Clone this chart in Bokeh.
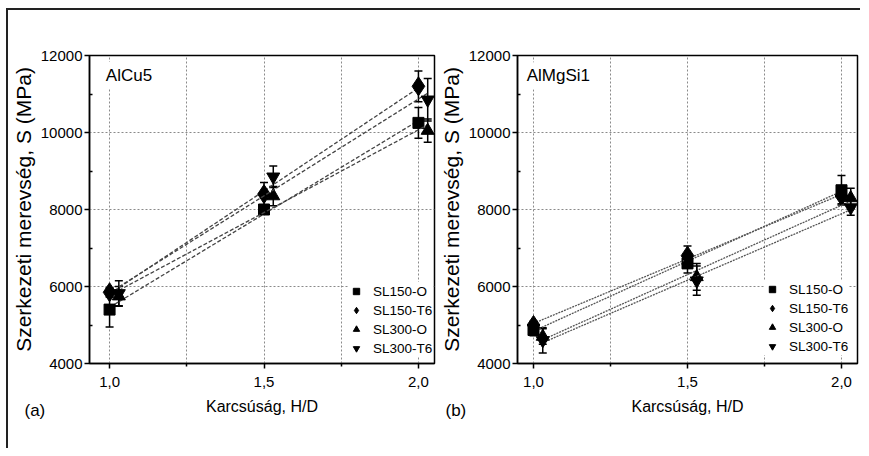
import numpy as np
from bokeh.plotting import figure
from bokeh.models import (ColumnDataSource, Whisker, Label, Legend, LegendItem,
                          FixedTicker, Range1d, TeeHead, Title)
from bokeh.layouts import row
from bokeh.embed import file_html
from bokeh.resources import INLINE

FONT = "'Liberation Sans', Arial, sans-serif"

# ---------------- data ----------------
series_names = ["SL150-O", "SL150-T6", "SL300-O", "SL300-T6"]
series_markers = ["square", "diamond", "triangle", "inverted_triangle"]
marker_sizes = [11, 19, 13, 13]

h_d_sl150 = [1.0, 1.5, 2.0]
h_d_sl300 = [1.03, 1.53, 2.03]

# (a) AlCu5
alcu5_sl150_o = [5400, 8000, 10250]
alcu5_sl150_o_err = [450, 80, 400]
alcu5_sl150_t6 = [5850, 8400, 11200]
alcu5_sl150_t6_err = [120, 300, 400]
alcu5_sl300_o = [5750, 8350, 10050]
alcu5_sl300_o_err = [250, 250, 300]
alcu5_sl300_t6 = [5820, 8850, 10850]
alcu5_sl300_t6_err = [330, 280, 550]

# (b) AlMgSi1
almgsi1_sl150_o = [4870, 6600, 8500]
almgsi1_sl150_o_err = [150, 250, 380]
almgsi1_sl150_t6 = [5000, 6800, 8350]
almgsi1_sl150_t6_err = [100, 250, 200]
almgsi1_sl300_o = [4700, 6250, 8300]
almgsi1_sl300_o_err = [200, 350, 250]
almgsi1_sl300_t6 = [4600, 6150, 8050]
almgsi1_sl300_t6_err = [330, 380, 200]

x_ticks = [1.0, 1.5, 2.0]
x_minor_ticks = [1.25, 1.75]
x_tick_labels = ["1,0", "1,5", "2,0"]
y_ticks = [4000, 6000, 8000, 10000, 12000]
y_minor_ticks = [5000, 7000, 9000, 11000]

x_label = "Karcsúság, H/D"
y_label = "Szerkezeti merevség, S (MPa)"


def make_panel(material, tag, values, errors, x_lo, x_hi, width, min_left,
               min_right, min_bottom, legend_loc, fit_dash, fit_color,
               mat_pos, tag_offset):
    p = figure(width=width, height=438, output_backend="svg", toolbar_location=None,
               x_range=Range1d(x_lo, x_hi), y_range=Range1d(4000, 12000),
               min_border_left=min_left, min_border_right=min_right,
               min_border_top=45, min_border_bottom=min_bottom)
    p.outline_line_color = "black"
    p.outline_line_width = 1.5
    p.outline_line_alpha = 1

    # grid
    p.xgrid.ticker = FixedTicker(ticks=x_ticks + x_minor_ticks)
    p.ygrid.ticker = FixedTicker(ticks=y_ticks)
    for g in (p.xgrid, p.ygrid):
        g.grid_line_color = "#8a8a8a"
        g.grid_line_dash = "2 2"
        g.grid_line_width = 1

    # axes
    p.xaxis.ticker = FixedTicker(ticks=x_ticks, minor_ticks=x_minor_ticks)
    p.xaxis.major_label_overrides = {t: l for t, l in zip(x_ticks, x_tick_labels)}
    p.yaxis.ticker = FixedTicker(ticks=y_ticks, minor_ticks=y_minor_ticks)
    for ax in (p.xaxis[0], p.yaxis[0]):
        ax.axis_line_width = 1.5
        ax.axis_line_color = "black"
        ax.major_tick_line_width = 1.5
        ax.minor_tick_line_width = 1.5
        ax.major_tick_out = 5
        ax.major_tick_in = 0
        ax.major_label_text_font = FONT
        ax.major_label_text_font_size = "15px"
        ax.major_label_text_color = "black"
        ax.axis_label_text_font = FONT
        ax.axis_label_text_font_style = "normal"
        ax.axis_label_text_color = "black"
    p.xaxis.minor_tick_out = 3
    p.xaxis.minor_tick_in = 0
    p.yaxis.minor_tick_in = 3
    p.yaxis.minor_tick_out = 0
    p.xaxis.major_label_standoff = 8
    p.yaxis.major_label_standoff = 2
    p.xaxis.axis_label = x_label
    p.xaxis.axis_label_text_font_size = "16px"
    p.xaxis.axis_label_standoff = 8
    p.yaxis.axis_label = y_label
    p.yaxis.axis_label_text_font_size = "21px"
    p.yaxis.axis_label_standoff = 3

    items = []
    for i, name in enumerate(series_names):
        xs = h_d_sl150 if i < 2 else h_d_sl300
        ys = values[i]
        es = errors[i]
        # linear fit line through each series
        k, b = np.polyfit(xs, ys, 1)
        fx = [xs[0], xs[-1]]
        p.line(fx, [k * fx[0] + b, k * fx[1] + b], line_dash=fit_dash,
               line_color=fit_color, line_width=1.3)
        src = ColumnDataSource(dict(x=xs, y=ys,
                                    lo=[y - e for y, e in zip(ys, es)],
                                    hi=[y + e for y, e in zip(ys, es)]))
        wh = Whisker(source=src, base="x", upper="hi", lower="lo",
                     line_color="black", line_width=1.5,
                     upper_head=TeeHead(size=8, line_width=1.5, line_color="black"),
                     lower_head=TeeHead(size=8, line_width=1.5, line_color="black"))
        p.add_layout(wh)
        r = p.scatter("x", "y", source=src, marker=series_markers[i],
                      size=marker_sizes[i], fill_color="black", line_color="black")
        items.append(LegendItem(label=name, renderers=[r]))

    legend = Legend(items=items, location=legend_loc)
    legend.border_line_color = None
    legend.background_fill_color = "white"
    legend.background_fill_alpha = 1
    legend.label_text_font = FONT
    legend.label_text_font_size = "13.5px"
    legend.label_text_color = "black"
    legend.label_height = 18
    legend.glyph_height = 18
    legend.glyph_width = 16
    legend.spacing = 1
    legend.padding = 4
    legend.margin = 0
    legend.label_standoff = 9
    p.add_layout(legend)

    p.add_layout(Label(x=mat_pos[0], y=mat_pos[1], text=material, text_font=FONT,
                       text_font_size="17px", text_baseline="middle", text_color="black",
                       background_fill_color="white", padding=4))
    p.add_layout(Title(text=tag, align="left", vertical_align="top", offset=tag_offset,
                       text_font=FONT, text_font_size="17px",
                       text_font_style="normal", text_color="black",
                       standoff=-34), "below")
    return p


pa = make_panel("AlCu5", "(a)",
                [alcu5_sl150_o, alcu5_sl150_t6, alcu5_sl300_o, alcu5_sl300_t6],
                [alcu5_sl150_o_err, alcu5_sl150_t6_err, alcu5_sl300_o_err, alcu5_sl300_t6_err],
                0.935, 2.052, 428, 80, 2, 83, (259, 6), "4 2", "#444444",
                (0.975, 11480), -65)
pb = make_panel("AlMgSi1", "(b)",
                [almgsi1_sl150_o, almgsi1_sl150_t6, almgsi1_sl300_o, almgsi1_sl300_t6],
                [almgsi1_sl150_o_err, almgsi1_sl150_t6_err, almgsi1_sl300_o_err, almgsi1_sl300_t6_err],
                0.948, 2.052, 424, 81, 3, 85, (247, 8), "2 1", "#555555",
                (0.965, 11475), -72)

layout = row(pa, pb, styles={"margin-top": "8px", "margin-left": "6px",
                             "border-top": "2px solid #222",
                             "border-left": "2px solid #222"})
open("out.html", "w").write(file_html(layout, INLINE))
